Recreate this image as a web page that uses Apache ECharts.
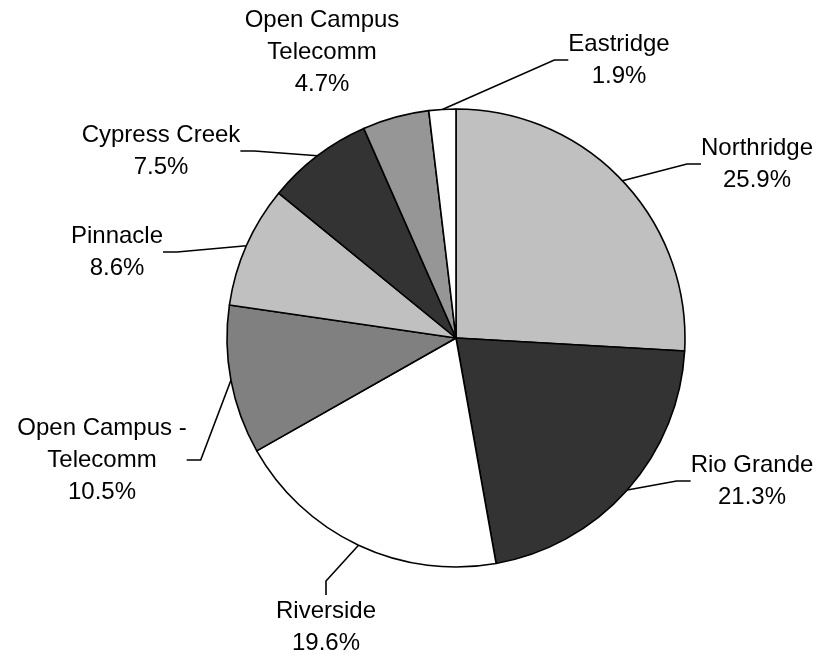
<!DOCTYPE html>
<html>
<head>
<meta charset="utf-8">
<script src="https://cdn.jsdelivr.net/npm/echarts@6/dist/echarts.min.js"></script>
<style>
html,body{margin:0;padding:0;background:#fff;}
#chart{width:820px;height:656px;}
</style>
</head>
<body>
<div id="chart"></div>
<script>
const categories = ['Northridge', 'Rio Grande', 'Riverside', 'Open Campus -\nTelecomm', 'Pinnacle', 'Cypress Creek', 'Open Campus\nTelecomm', 'Eastridge'];
const values = [25.9, 21.3, 19.6, 10.5, 8.6, 7.5, 4.7, 1.9];
const colors = ['#c0c0c0', '#333333', '#ffffff', '#808080', '#c0c0c0', '#333333', '#969696', '#ffffff'];
const hiddenLeader = ['Open Campus\nTelecomm'];
// label anchor positions (centers of text blocks), layout only
const labelPos = [[757, 164], [752, 481], [326, 627], [102, 460], [117, 252], [161, 151], [322, 52], [619, 60]];

const chart = echarts.init(document.getElementById('chart'), null, {renderer: 'canvas'});
const data = categories.map((c, i) => ({
  name: c,
  value: values[i],
  itemStyle: {color: colors[i]},
  labelLine: {show: hiddenLeader.indexOf(c) < 0}
}));
chart.setOption({
  animation: false,
  backgroundColor: '#ffffff',
  series: [{
    type: 'pie',
    center: [456, 338],
    radius: 229,
    startAngle: 90,
    clockwise: true,
    avoidLabelOverlap: false,
    data: data,
    itemStyle: {borderColor: '#000', borderWidth: 1.6},
    label: {
      show: true,
      position: 'outside',
      color: '#000',
      fontFamily: 'Liberation Sans, Arial, sans-serif',
      fontSize: 24,
      lineHeight: 32,
      align: 'center',
      formatter: p => p.name + '\n' + p.value.toFixed(1) + '%'
    },
    labelLine: {
      show: true,
      length: 10,
      length2: 14,
      smooth: false,
      lineStyle: {color: '#000', width: 1.6}
    },
    labelLayout: function (params) {
      const pos = labelPos[params.dataIndex];
      return {x: pos[0], y: pos[1], align: 'center', verticalAlign: 'middle'};
    }
  }]
});
</script>
</body>
</html>
